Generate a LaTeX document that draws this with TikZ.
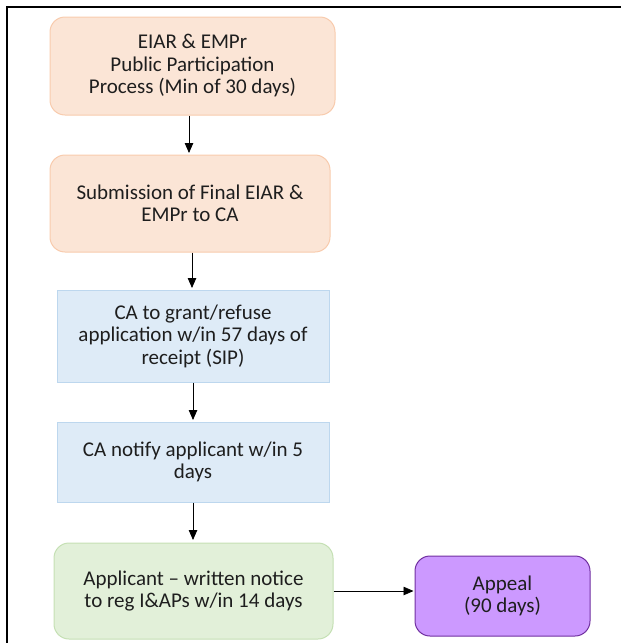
\documentclass[tikz,border=0pt]{standalone}
\usepackage{fontspec}
\setmainfont{Carlito}
\usepackage{tikz}
\usetikzlibrary{arrows.meta}
\definecolor{peachfill}{RGB}{251,229,214}
\definecolor{peachline}{RGB}{248,203,173}
\definecolor{bluefill}{RGB}{222,235,247}
\definecolor{blueline}{RGB}{189,215,238}
\definecolor{greenfill}{RGB}{226,240,217}
\definecolor{greenline}{RGB}{197,224,180}
\definecolor{appealfill}{RGB}{204,153,255}
\definecolor{appealline}{RGB}{112,48,160}
\definecolor{inktext}{RGB}{30,30,30}

\begin{document}
\begin{tikzpicture}[x=1pt, y=-1pt,
		stage/.style={align=center, inner sep=2pt, text=inktext,
		              font=\fontsize{21}{22.5}\selectfont, line width=1pt},
		pubbox/.style={stage, draw=peachline, fill=peachfill, rounded corners=15pt},
		cabox/.style={stage, draw=blueline, fill=bluefill},
		notebox/.style={stage, draw=greenline, fill=greenfill, rounded corners=15pt},
		appealbox/.style={stage, draw=appealline, fill=appealfill, rounded corners=15pt},
		flow/.style={line width=0.8pt, -{Triangle[width=8.5pt,length=10pt]}}]
		\useasboundingbox (0,0) rectangle (621,643);
		\draw[line width=1.6pt] (7,643) -- (7,7) -- (621,7);
		\node[pubbox, minimum width=285pt, minimum height=98pt] (ppp) at (192.5,66)
			{EIAR \& EMPr\\Public Participation\\Process (Min of 30 days)};
		\node[pubbox, minimum width=280pt, minimum height=97pt] (submit) at (190,203.5)
			{Submission of Final EIAR \&\\EMPr to CA};
		\node[cabox, minimum width=272pt, minimum height=92pt] (decide) at (193,336)
			{CA to grant/refuse\\application w/in 57 days of\\receipt (SIP)};
		\node[cabox, minimum width=272pt, minimum height=80pt] (notify) at (193,462)
			{CA notify applicant w/in 5\\days};
		\node[notebox, minimum width=279pt, minimum height=96pt] (notice) at (193.5,591)
			{Applicant -- written notice\\to reg I\&APs w/in 14 days};
		\node[appealbox, minimum width=175pt, minimum height=80pt] (appeal) at (502.5,596)
			{Appeal\\(90 days)};
		\draw[flow] (ppp.south -| 189,0) -- (189,153);
		\draw[flow] (submit.south -| 192,0) -- (192,288);
		\draw[flow] (decide.south -| 193,0) -- (193,420);
		\draw[flow] (notify.south -| 193,0) -- (193,540);
		\draw[flow] (notice.east |- 0,591) -- ([xshift=-1pt]appeal.west |- 0,591);
	\end{tikzpicture}
\end{document}
